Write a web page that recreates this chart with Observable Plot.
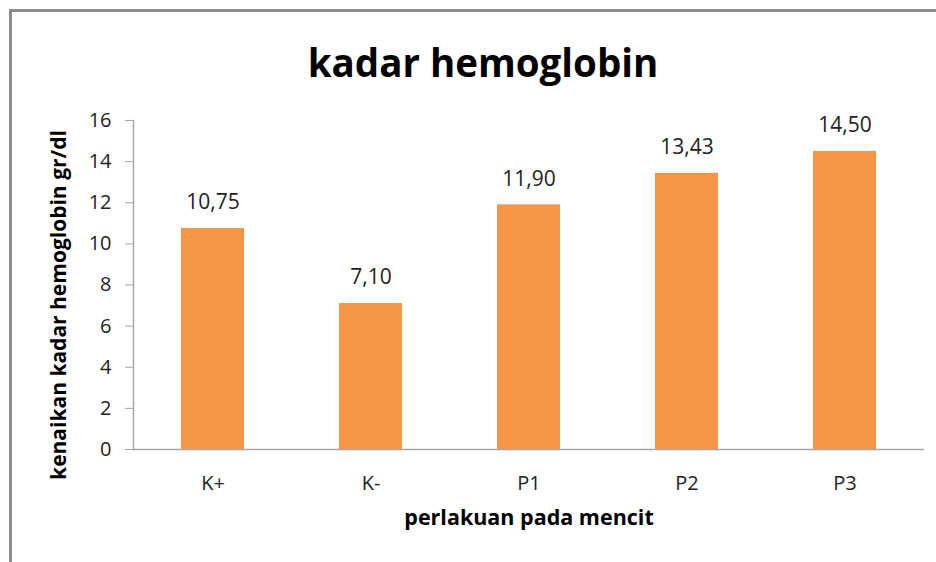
<!DOCTYPE html>
<html>
<head>
<meta charset="utf-8">
<script src="https://cdn.jsdelivr.net/npm/d3@7"></script>
<script src="https://cdn.jsdelivr.net/npm/@observablehq/plot@0.6"></script>
<style>
  html, body { margin: 0; padding: 0; background: #fff; overflow: hidden; }
  #chart { width: 936px; height: 562px; overflow: hidden; }
</style>
</head>
<body>
<div id="chart"></div>
<script>
const categories = ["K+", "K-", "P1", "P2", "P3"];
const values = [10.75, 7.10, 11.90, 13.43, 14.50];
const yTicks = [0, 2, 4, 6, 8, 10, 12, 14, 16];
const title = "kadar hemoglobin";
const xLabel = "perlakuan pada mencit";
const yLabel = "kenaikan kadar hemoglobin gr/dl";

const data = categories.map((c, i) => ({cat: c, value: values[i]}));
const fmt = v => v.toFixed(2).replace(".", ",");
const font = "'Open Sans', sans-serif";

const chart = Plot.plot({
  width: 936,
  height: 562,
  marginLeft: 133,
  marginRight: 12,
  marginTop: 120,
  marginBottom: 113,
  style: {fontFamily: font, background: "#fff", color: "#222"},
  x: {domain: categories, paddingInner: 0.6, paddingOuter: 0.3, label: null},
  y: {domain: [0, 16], label: null},
  marks: [
    Plot.barY(data, {x: "cat", y: "value", fill: "#F79646"}),
    Plot.ruleY([0], {stroke: "#a6a6a6", strokeWidth: 1.5}),
    Plot.frame({anchor: "left", stroke: "#a6a6a6", strokeWidth: 1.5}),
    Plot.axisY({ticks: yTicks, tickSize: 8, tickPadding: 14, fontSize: 20, stroke: "#a6a6a6", fill: "#222", label: null}),
    Plot.axisX({tickSize: 0, tickPadding: 26, fontSize: 20, fill: "#222", label: null}),
    Plot.text(data, {x: "cat", y: "value", text: d => fmt(d.value), dy: -26, fontSize: 21, fill: "#222"}),
    Plot.text([title], {frameAnchor: "top", dx: -46, dy: -71, fontSize: 38.5, fontWeight: "bold", fill: "#000"}),
    Plot.text([xLabel], {frameAnchor: "bottom", dy: 75, fontSize: 21.5, fontWeight: "bold", fill: "#000"}),
    Plot.text([yLabel], {frameAnchor: "left", textAnchor: "middle", rotate: -90, dx: -74, dy: 20, fontSize: 21, fontWeight: "bold", fill: "#000"})
  ]
});
// outer chart-area border (top and left edges visible, as in the reference)
d3.select(chart).append("path")
  .attr("d", "M10.5,562V10.5H936")
  .attr("fill", "none")
  .attr("stroke", "#8c8c8c")
  .attr("stroke-width", 3);
document.getElementById("chart").appendChild(chart);
</script>
</body>
</html>
